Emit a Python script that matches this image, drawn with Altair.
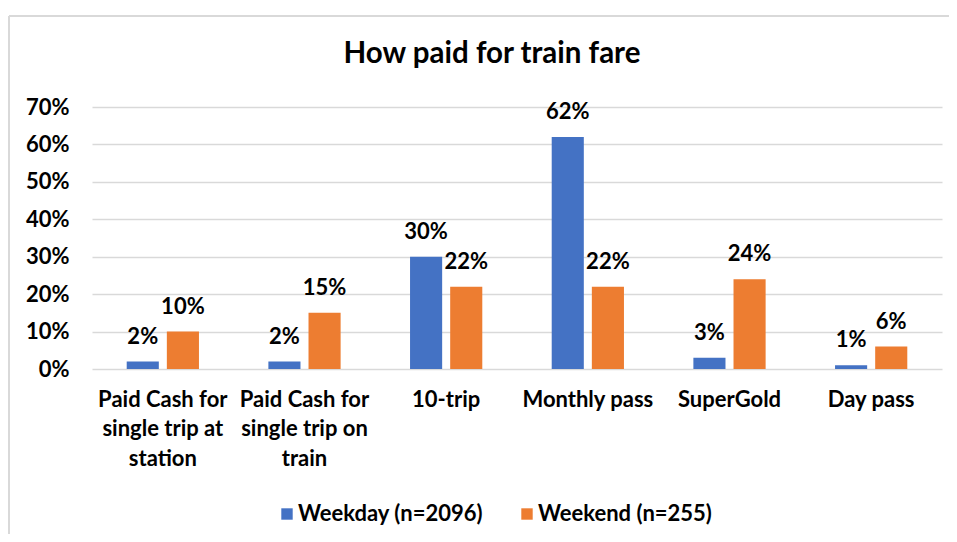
import altair as alt
import pandas as pd

categories = [
    "Paid Cash for\nsingle trip at\nstation",
    "Paid Cash for\nsingle trip on\ntrain",
    "10-trip",
    "Monthly pass",
    "SuperGold",
    "Day pass",
]
series = ["Weekday (n=2096)", "Weekend (n=255)"]
weekday = [0.02, 0.02, 0.30, 0.62, 0.03, 0.01]
weekend = [0.10, 0.15, 0.22, 0.22, 0.24, 0.06]
colors = ["#4472C4", "#ED7D31"]
y_ticks = [0.0, 0.1, 0.2, 0.3, 0.4, 0.5, 0.6, 0.7]

rows = []
for c, a, b in zip(categories, weekday, weekend):
    rows.append({"category": c, "series": series[0], "value": a})
    rows.append({"category": c, "series": series[1], "value": b})
df = pd.DataFrame(rows)

FONT = "Lato"
GRID = "#D9D9D9"
FS = 22

x_enc = alt.X(
    "category:N",
    sort=categories,
    title=None,
    scale=alt.Scale(paddingInner=0.49, paddingOuter=0.245),
    axis=alt.Axis(
        labelAngle=0,
        labelExpr="split(datum.label, '\\n')",
        labelFont=FONT,
        labelFontSize=FS,
        labelFontWeight="bold",
        labelColor="black",
        labelLineHeight=29.5,
        labelPadding=20,
        labelLimit=0,
        ticks=False,
        domain=False,
    ),
)
xoff = alt.XOffset("series:N", sort=series, scale=alt.Scale(paddingInner=0.2, paddingOuter=0))
y_enc = alt.Y(
    "value:Q",
    title=None,
    scale=alt.Scale(domain=[0, 0.7], nice=False),
    axis=alt.Axis(
        values=y_ticks,
        format=".0%",
        labelFont=FONT,
        labelFontSize=FS,
        labelFontWeight="bold",
        labelColor="black",
        labelPadding=23,
        ticks=False,
        domain=False,
        gridColor=GRID,
        gridWidth=1.5,
    ),
)

base = alt.Chart(df)

bars = base.mark_bar().encode(
    x=x_enc,
    xOffset=xoff,
    y=y_enc,
    color=alt.Color(
        "series:N",
        sort=series,
        scale=alt.Scale(domain=series, range=colors),
        legend=alt.Legend(
            title=None,
            orient="none",
            legendX=184,
            legendY=396,
            direction="horizontal",
            symbolType="square",
            symbolSize=130,
            symbolStrokeWidth=0,
            labelFont=FONT,
            labelFontSize=FS,
            labelFontWeight="bold",
            labelColor="black",
            labelOffset=0,
            columnPadding=32,
            labelLimit=0,
        ),
    ),
)

labels = base.mark_text(
    dy=-18,
    baseline="alphabetic",
    font=FONT,
    fontSize=FS,
    fontWeight="bold",
    color="black",
).encode(
    x=x_enc,
    xOffset=xoff,
    y=y_enc,
    text=alt.Text("value:Q", format=".0%"),
)

frame_df = pd.DataFrame({"k": [0]})
border_top = alt.Chart(frame_df).mark_rule(color=GRID, strokeWidth=2).encode(
    x=alt.value(-83), x2=alt.value(880), y=alt.value(-91)
)
border_left = alt.Chart(frame_df).mark_rule(color=GRID, strokeWidth=2).encode(
    x=alt.value(-83), y=alt.value(-91), y2=alt.value(440)
)

chart = alt.layer(bars, labels, border_top, border_left).properties(
    width=850,
    height=262,
    title=alt.TitleParams(
        "How paid for train fare",
        font=FONT,
        fontSize=29.5,
        fontWeight="bold",
        color="black",
        anchor="middle",
        dx=-25,
        offset=-54,
    ),
    autosize=alt.AutoSizeParams(type="none"),
    padding={"left": 84, "top": 99, "right": 7, "bottom": 165},
).configure_view(stroke=None)

chart.save("out.html", embed_options={"renderer": "svg", "actions": False})
